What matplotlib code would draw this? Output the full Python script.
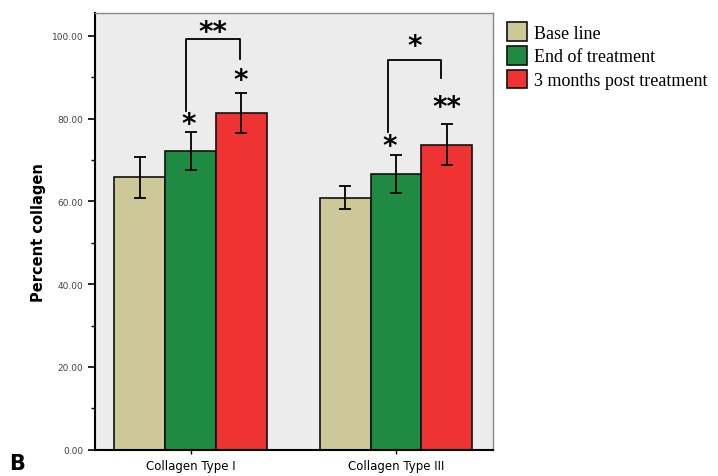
import numpy as np
import matplotlib
matplotlib.use("Agg")
import matplotlib.pyplot as plt
from matplotlib.ticker import MultipleLocator

# datos
groups = ['Collagen Type I', 'Collagen Type III']
series = ['Base line', 'End of treatment', '3 months post treatment']
means = {
    'Base line': [65.8, 60.9],
    'End of treatment': [72.2, 66.6],
    '3 months post treatment': [81.3, 73.7],
}
errors = {
    'Base line': [5.0, 2.7],
    'End of treatment': [4.6, 4.6],
    '3 months post treatment': [4.8, 5.0],
}
colors = ['#cdc897', '#1f8a42', '#ee3332']
yticks = [0, 20, 40, 60, 80, 100]

fig = plt.figure(figsize=(7.18, 4.77), dpi=100)
ax = fig.add_axes([0.1323, 0.0551, 0.5539, 0.9155])
ax.set_facecolor('#ececec')

x = np.arange(len(groups))
w = 0.247
for i, s in enumerate(series):
    pos = x + (i - 1) * w
    ax.bar(pos, means[s], w, color=colors[i], edgecolor='#111111', linewidth=1.2,
           label=s, zorder=2)
    ax.errorbar(pos, means[s], yerr=errors[s], fmt='none', ecolor='black',
                elinewidth=1.3, capsize=4.3, capthick=1.3, zorder=3)

ax.set_xlim(-0.465, 1.47)
ax.set_ylim(0, 105.5)
ax.set_yticks(yticks)
ax.set_yticklabels([f'{v:.2f}' for v in yticks], fontsize=6.5, color='#444444')
ax.yaxis.set_minor_locator(MultipleLocator(10))
ax.tick_params(axis='y', which='major', length=5, width=1.2, color='black')
ax.tick_params(axis='y', which='minor', length=3, width=1, color='black')
ax.set_xticks(x)
ax.set_xticklabels(groups, fontsize=8.5)
ax.tick_params(axis='x', length=3, width=1, pad=4)

for side in ['left', 'bottom']:
    ax.spines[side].set_color('black')
    ax.spines[side].set_linewidth(1.5)
for side in ['top', 'right']:
    ax.spines[side].set_color('#888888')
    ax.spines[side].set_linewidth(1)

ax.set_ylabel('Percent collagen', fontsize=10.5, fontweight='bold', labelpad=4)

# corchetes de significancia
star_kw = dict(ha='center', va='center', fontsize=20, fontweight='bold', zorder=4)
def bracket(x1, x2, y_top, y_left, y_right, label, label_y):
    ax.plot([x1, x1, x2, x2], [y_left, y_top, y_top, y_right], color='black', lw=1.3, zorder=4)
    ax.text((x1 + x2) / 2, label_y, label, **star_kw)

bracket(-0.02, 0.24, 99.2, 81.9, 94.3, '**', 101.0)
bracket(0.962, 1.217, 94.2, 76.7, 89.8, '*', 97.6)

ax.text(-0.01, 78.6, '*', **star_kw)
ax.text(0.246, 89.2, '*', **star_kw)
ax.text(0.967, 73.4, '*', **star_kw)
ax.text(1.245, 82.7, '**', **star_kw)

leg = ax.legend(loc='upper left', bbox_to_anchor=(1.005, 1.008), frameon=False,
                prop={'family': 'Liberation Serif', 'size': 13},
                handlelength=1.1, handleheight=1.2, handletextpad=0.4,
                labelspacing=0.25, borderaxespad=0.3)

fig.text(0.013, 0.015, 'B', fontsize=15, fontweight='bold')

plt.savefig('out.png', dpi=100)
